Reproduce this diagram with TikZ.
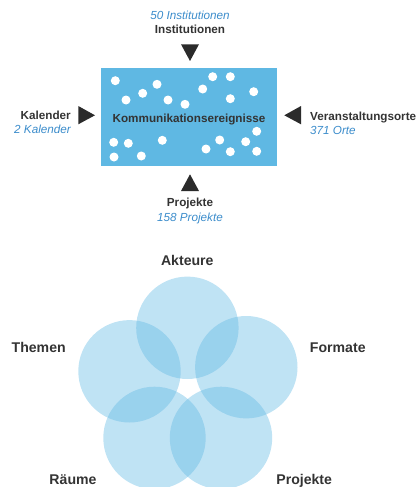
\documentclass[tikz,border=0pt]{standalone}
\usepackage{fontspec}
\setmainfont{Liberation Sans}
\definecolor{boxblue}{HTML}{5FB8E3}
\definecolor{numblue}{HTML}{3B8CCB}
\definecolor{darktext}{HTML}{333333}
\definecolor{tricol}{HTML}{2B2B2B}
\tikzset{
  lab/.style={font=\fontsize{11.7}{14}\selectfont\bfseries, text=darktext, inner sep=0pt},
  biglab/.style={font=\fontsize{14.1}{17}\selectfont\bfseries, text=darktext, inner sep=0pt},
  num/.style={font=\fontsize{11.7}{14}\selectfont\itshape, text=numblue, inner sep=0pt},
  dot/.style={circle, fill=white, minimum size=9pt, inner sep=0pt},
  tri/.style={fill=tricol},
  venn/.style={circle, fill=boxblue, fill opacity=0.4, minimum size=102.4pt, inner sep=0pt}
}
\begin{document}
\begin{tikzpicture}[x=1pt,y=-1pt]
\useasboundingbox (0,0) rectangle (416,487);
% box
\node[fill=boxblue, minimum width=176pt, minimum height=98pt, inner sep=0pt] (box) at (189,117) {};
\foreach \i/\x/\y in {1/115.3/80.7, 2/126/100, 3/142.7/93.3, 4/157/84.3, 5/168/100, 6/185/104.3,
  7/202.7/89, 8/212.7/76.7, 9/230.3/76.7, 10/230.3/98.7, 11/253.7/91.7, 12/113.7/142.3,
  13/128.3/143.3, 14/162.3/140.3, 15/114/157, 16/141.3/156, 17/206/149, 18/219.7/140,
  19/230.3/151.7, 20/245.7/141.7, 21/256.7/131.3, 22/256.7/151.3}
  \node[dot] (d\i) at (\x,\y) {};
\node[lab, anchor=base] (kom) at (189,122.3) {Kommunikationsereignisse};
% triangles
\fill[tri] (181,44.3) -- (199,44.3) -- (190,61) -- cycle;
\fill[tri] (78.3,106) -- (78.3,124.3) -- (95,115.3) -- cycle;
\fill[tri] (301,106) -- (301,124.3) -- (284.3,115.3) -- cycle;
\fill[tri] (181,191) -- (199,191) -- (190,174.3) -- cycle;
% labels top
\node[num, anchor=base] (instn) at (190,20) {50 Institutionen};
\node[lab, anchor=base] (inst) at (190,34) {Institutionen};
\node[lab, anchor=base east] (kal) at (71,119.5) {Kalender};
\node[num, anchor=base east] (kaln) at (71,133.7) {2 Kalender};
\node[lab, anchor=base west] (ort) at (310,120) {Veranstaltungsorte};
\node[num, anchor=base west] (ortn) at (310,134.2) {371 Orte};
\node[lab, anchor=base] (proj) at (190,206.7) {Projekte};
\node[num, anchor=base] (projn) at (190,221.2) {158 Projekte};
% venn
\node[venn] (cakt) at (187.4,327.8) {};
\node[venn] (cthe) at (129.5,371.3) {};
\node[venn] (cfor) at (246.3,367.2) {};
\node[venn] (crau) at (154.5,437.9) {};
\node[venn] (cpro) at (221,437.9) {};
\node[biglab, anchor=base] (lakt) at (187.3,265) {Akteure};
\node[biglab, anchor=base] (lthe) at (38.7,352.3) {Themen};
\node[biglab, anchor=base] (lfor) at (337.8,352.3) {Formate};
\node[biglab, anchor=base] (lrau) at (73,484.3) {Räume};
\node[biglab, anchor=base] (lpro) at (304.2,484.3) {Projekte};
\end{tikzpicture}
\end{document}
